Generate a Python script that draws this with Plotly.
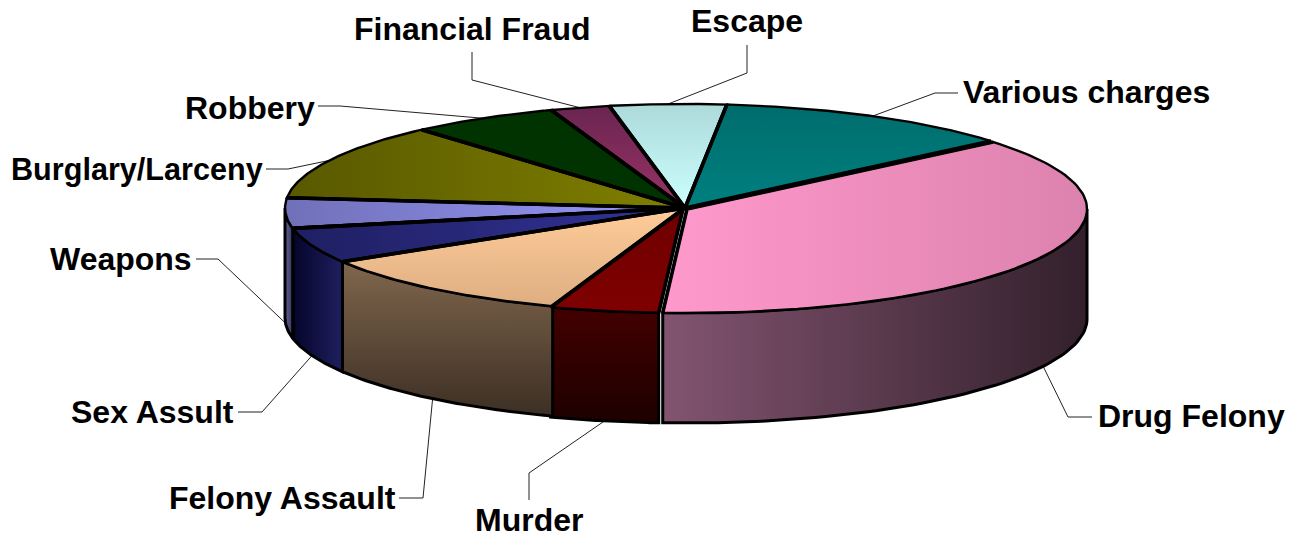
import numpy as np
import plotly.graph_objects as go

categories = ["Various charges", "Drug Felony", "Murder", "Felony Assault", "Sex Assult",
              "Weapons", "Burglary/Larceny", "Robbery", "Financial Fraud", "Escape"]
shares = [12.2, 37.1, 4.4, 11.0, 5.5, 4.7, 12.0, 6.0, 2.4, 4.7]

# style tables: (gradient type, colour start, colour end); vertical runs top to bottom
top_styles = [
    ("vertical", "#006C6C", "#008080"),
    ("horizontal", "#FF99CC", "#DC82AE"),
    ("vertical", "#6E0000", "#800000"),
    ("vertical", "#FFCC99", "#DEAE82"),
    ("horizontal", "#1F1F62", "#333399"),
    ("horizontal", "#7070B8", "#9999FF"),
    ("horizontal", "#585800", "#808000"),
    ("horizontal", "#003300", "#003300"),
    ("vertical", "#6A2550", "#993366"),
    ("vertical", "#ADD9D9", "#CCFFFF"),
]
side_styles = [
    None,
    ("horizontal", "#825470", "#33202C"),
    ("vertical", "#420000", "#1E0000"),
    ("vertical", "#80664D", "#3C2F24"),
    ("horizontal", "#04042A", "#1F1F60"),
    ("horizontal", "#66669A", "#33335A"),
    None, None, None, None,
]
offsets = [(0, 0), (2, 1), (-2, 1), (0, 0), (0, 0), (0, 0), (0, 0), (0, 0), (0, 0), (0, 0)]
label_pos = [(961, 92, "left"), (1096, 416, "left"), (529, 520, "center"), (398, 498, "right"),
             (236, 412, "right"), (194, 259, "right"), (265, 169, "right"), (317, 108, "right"),
             (472, 29, "center"), (747, 21, "center")]
label_sizes = [32, 32, 32, 32, 32, 32, 30.6, 32, 32, 32]
elbows = [[(935, 93), (958, 93)], [(1068, 417), (1092, 417)], [(529, 473), (529, 500)],
          [(423, 498), (399, 498)], [(262, 412), (238, 412)], [(218, 259), (196, 259)],
          [(288, 169), (266, 169)], [(340, 106), (318, 106)], [(472, 80), (472, 52)],
          [(747, 73), (747, 45)]]

CX, CY, RX, RY, DEPTH = 685, 208, 400, 104, 110
START = 84.0


def rim(t_deg, dy=0, off=(0, 0)):
    t = np.radians(np.asarray(t_deg, dtype=float))
    return CX + off[0] + RX * np.cos(t), CY + off[1] + dy - RY * np.sin(t)


def poly(x, y, style, width):
    kind, a, b = style
    scale = [[0, a], [1, b]] if kind == "horizontal" else [[0, b], [1, a]]
    return go.Scatter(
        x=np.round(x, 2).tolist(), y=np.round(y, 2).tolist(), mode="lines", fill="toself",
        line=dict(color="#000000", width=width), hoverinfo="skip", showlegend=False,
        fillgradient=dict(type=kind, colorscale=scale),
    )


degrees = np.array(shares) / sum(shares) * 360
bounds = START - np.concatenate([[0], np.cumsum(degrees)])

fig = go.Figure()

# leader lines
for i in range(len(categories)):
    mid = (bounds[i] + bounds[i + 1]) / 2
    dy = DEPTH if np.sin(np.radians(mid)) < 0 else 0
    ax, ay = rim([mid], dy)
    fig.add_trace(go.Scatter(
        x=[float(ax[0])] + [p[0] for p in elbows[i]],
        y=[float(ay[0])] + [p[1] for p in elbows[i]],
        mode="lines", line=dict(color="#222222", width=1), hoverinfo="skip", showlegend=False))

# side walls
for i in range(len(categories)):
    if side_styles[i] is None:
        continue
    t1, t2 = min(bounds[i], 0), max(bounds[i + 1], -180)
    ts = np.linspace(t1, t2, 60)
    xa, ya = rim(ts, 0, offsets[i])
    xb, yb = rim(ts[::-1], DEPTH, offsets[i])
    fig.add_trace(poly(np.r_[xa, xb, xa[0]], np.r_[ya, yb, ya[0]], side_styles[i], 3.0))

# top faces
for i in range(len(categories)):
    ts = np.linspace(bounds[i], bounds[i + 1], 90)
    xa, ya = rim(ts, 0, offsets[i])
    x0, y0 = CX + offsets[i][0], CY + offsets[i][1]
    fig.add_trace(poly(np.r_[x0, xa, x0], np.r_[y0, ya, y0], top_styles[i], 2.4))

# heavier radial edges on the top faces
for i in range(len(categories)):
    xa, ya = rim([bounds[i], bounds[i + 1]], 0, offsets[i])
    x0, y0 = CX + offsets[i][0], CY + offsets[i][1]
    fig.add_trace(go.Scatter(
        x=[float(xa[0]), x0, float(xa[1])], y=[float(ya[0]), y0, float(ya[1])], mode="lines",
        line=dict(color="#000000", width=3.6), hoverinfo="skip", showlegend=False))

for name, (x, y, anchor), size in zip(categories, label_pos, label_sizes):
    fig.add_annotation(x=x, y=y, text=name, showarrow=False, xanchor=anchor, yanchor="middle",
                       font=dict(family="Liberation Sans, Arial", size=size, color="#000000", weight="bold"))

fig.update_layout(
    width=1298, height=539, margin=dict(l=0, r=0, t=0, b=0),
    paper_bgcolor="white", plot_bgcolor="white", showlegend=False,
    xaxis=dict(range=[0, 1298], visible=False, fixedrange=True),
    yaxis=dict(range=[539, 0], visible=False, fixedrange=True),
)
fig.write_html("out.html", config=dict(displayModeBar=False),
               post_script="document.body.style.margin='0';document.body.style.overflow='hidden';")
